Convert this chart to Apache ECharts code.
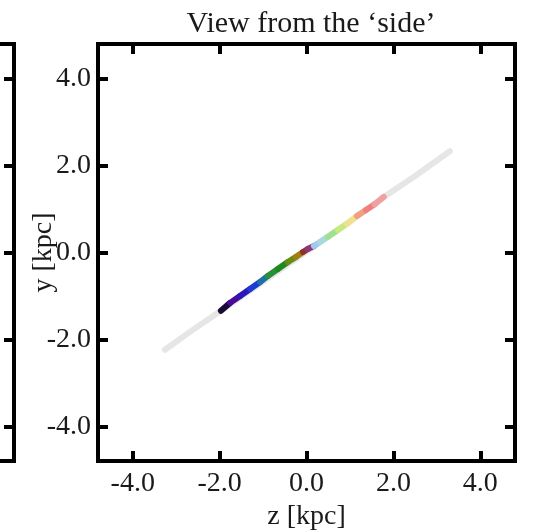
<!DOCTYPE html>
<html>
<head>
<meta charset="utf-8">
<script src="https://cdn.jsdelivr.net/npm/echarts@6/dist/echarts.min.js"></script>
<style>html,body{margin:0;padding:0;background:#fff}#c{width:540px;height:530px}</style>
</head>
<body>
<div id="c"></div>
<script>
// Data (z, y in kpc)
const tickValues = [-4, -2, 0, 2, 4];
const grayZ = [-3.26, -2.60, -1.97, -1.0, 0.0, 1.0, 1.78, 2.50, 3.30];
const grayY = [-2.24, -1.77, -1.34, -0.67, 0.02, 0.71, 1.28, 1.76, 2.33];
const colZ = [-1.97, -1.76, -1.53, -1.30, -1.07, -0.89, -0.66, -0.43, -0.24, -0.08, 0.03, 0.17, 0.31, 0.49, 0.72, 0.93, 1.16, 1.37, 1.57, 1.78];
const colY = [-1.34, -1.16, -1.00, -0.84, -0.68, -0.54, -0.38, -0.22, -0.10, 0.01, 0.08, 0.15, 0.24, 0.36, 0.52, 0.66, 0.84, 0.98, 1.11, 1.28];
const segColors = ['#1a0a35', '#4a0a9a', '#2a18b8', '#1e3cd0', '#2070a8', '#2a9038', '#1e8a1e', '#6a8a10', '#a08010', '#903030', '#8a3a70', '#a0c8f0', '#a8d8e0', '#a0e090', '#c8e880', '#f0e090', '#f0a080', '#f08080', '#f0a0a0'];

const FONT = '"Liberation Serif", "DejaVu Serif", serif';
const TXT = '#1a1a1a';

const series = [];
series.push({
  type: 'line', xAxisIndex: 0, yAxisIndex: 0,
  data: grayZ.map((z, i) => [z, grayY[i]]),
  symbol: 'none', lineStyle: { color: '#e6e6e6', width: 6, cap: 'round' }, silent: true, z: 2
});
for (let i = 0; i < segColors.length; i++) {
  series.push({
    type: 'line', xAxisIndex: 0, yAxisIndex: 0,
    data: [[colZ[i], colY[i]], [colZ[i + 1], colY[i + 1]]],
    symbol: 'none', lineStyle: { color: segColors[i], width: 6, cap: 'round' }, silent: true, z: 3
  });
}

function axisCommon(extra) {
  return Object.assign({
    type: 'value', min: -4.8, max: 4.8,
    axisLine: { show: false, onZero: false },
    splitLine: { show: false },
    axisTick: { show: true, inside: true, length: 10, customValues: tickValues, lineStyle: { color: '#000', width: 4 } },
    axisLabel: { show: false, customValues: tickValues }
  }, extra);
}

const option = {
  backgroundColor: '#fff',
  animation: false,
  title: {
    text: 'View from the \u2018side\u2019', left: 306, top: 4, textAlign: 'center',
    textStyle: { fontFamily: FONT, fontSize: 30, fontWeight: 'normal', color: TXT }
  },
  grid: [
    { left: 98, top: 44, width: 417, height: 417, show: true, borderColor: '#000', borderWidth: 4, backgroundColor: 'transparent', containLabel: false, outerBoundsMode: 'none' },
    { left: -403, top: 44, width: 417, height: 417, show: true, borderColor: '#000', borderWidth: 4, backgroundColor: 'transparent', containLabel: false, outerBoundsMode: 'none' }
  ],
  xAxis: [
    axisCommon({
      gridIndex: 0, position: 'bottom',
      axisLabel: { show: true, customValues: tickValues, margin: 9, fontFamily: FONT, fontSize: 28, color: TXT, formatter: v => v.toFixed(1) },
      name: 'z [kpc]', nameLocation: 'middle', nameGap: 40,
      nameTextStyle: { fontFamily: FONT, fontSize: 28, color: TXT }
    }),
    axisCommon({ gridIndex: 0, position: 'top' }),
    axisCommon({ gridIndex: 1, position: 'bottom' })
  ],
  yAxis: [
    axisCommon({
      gridIndex: 0, position: 'left',
      axisLabel: { show: true, customValues: tickValues, margin: 7, fontFamily: FONT, fontSize: 28, color: TXT, formatter: v => v.toFixed(1) },
      name: 'y [kpc]', nameLocation: 'middle', nameGap: 40, nameMoveOverlap: false,
      nameTextStyle: { fontFamily: FONT, fontSize: 28, color: TXT }
    }),
    axisCommon({ gridIndex: 0, position: 'right' }),
    axisCommon({ gridIndex: 1, position: 'right' })
  ],
  series: series
};

const chart = echarts.init(document.getElementById('c'), null, { renderer: 'canvas' });
chart.setOption(option);
</script>
</body>
</html>
